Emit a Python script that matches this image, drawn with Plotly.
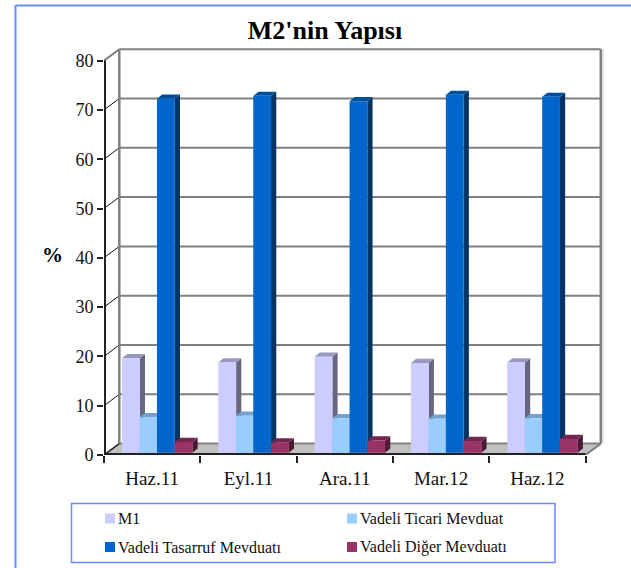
import plotly.graph_objects as go

categories = ["Haz.11", "Eyl.11", "Ara.11", "Mar.12", "Haz.12"]
m1 = [19.2, 18.3, 19.5, 18.2, 18.3]
ticari = [7.2, 7.5, 7.0, 6.9, 7.0]
tasarruf = [71.8, 72.4, 71.3, 72.6, 72.2]
diger = [2.2, 2.1, 2.5, 2.4, 2.8]
y_ticks = list(range(0, 90, 10))

series = [
    ("M1", m1, "#CCCCFF", "#666680", "#9999BF", -0.313, 105, 518.5),
    ("Vadeli Ticari Mevduat", ticari, "#99CCFF", "#4D6680", "#73A0CC", -0.130, 347, 518.5),
    ("Vadeli Tasarruf Mevduatı", tasarruf, "#0066CC", "#003366", "#004D99", 0.050, 105, 547),
    ("Vadeli Diğer Mevduatı", diger, "#993366", "#4D1A33", "#732650", 0.234, 347, 547),
]

L, R, T, B = 104, 21, 46, 113
W, H = 631, 568
plot_w, plot_h = W - L - R, H - T - B
PX_X = 96.3
PX_Y = 4.93
x0 = -0.5
x_end = x0 + plot_w / PX_X
y_end = plot_h / PX_Y
DX, DY = 15.3 / PX_X, 11.4 / PX_Y      # depth of the wall box
BDX, BDY = 5.2 / PX_X, 4.2 / PX_Y      # depth of each bar
BASE = 0.45
BAR_W = 17.8 / PX_X
x1 = x0 + len(categories)
GRID = "#808080"
DARK = "#222222"
FRAME = "#6A8CFF"


def px(x):
    return (x - L) / plot_w


def py(y):
    return (H - B - y) / plot_h


def poly(pts, color):
    d = "M" + " L".join(f"{a},{b}" for a, b in pts) + " Z"
    return dict(type="path", path=d, xref="x", yref="y", fillcolor=color, line_width=0, layer="below")


def seg(xa, ya, xb, yb, color, width, layer="below"):
    return dict(type="line", x0=xa, y0=ya, x1=xb, y1=yb, xref="x", yref="y",
                line=dict(color=color, width=width), layer=layer)


shapes = []
annotations = [dict(text="<b>%</b>", xref="paper", yref="paper", x=px(52), y=py(255),
                    xanchor="center", yanchor="middle",
                    showarrow=False, font=dict(size=21, color="#000000"))]
# outer frame and key box
shapes.append(dict(type="line", xref="paper", yref="paper", x0=px(16), x1=px(640), y0=py(5.5), y1=py(5.5),
                   line=dict(color=FRAME, width=2), layer="below"))
shapes.append(dict(type="line", xref="paper", yref="paper", x0=px(15.5), x1=px(15.5), y0=py(5), y1=py(575),
                   line=dict(color=FRAME, width=2), layer="below"))
shapes.append(dict(type="rect", xref="paper", yref="paper", x0=px(71.5), x1=px(555), y0=py(503.5), y1=py(562.5),
                   line=dict(color=FRAME, width=1.5), fillcolor="white", layer="below"))

# floor
shapes.append(poly([(x0, 0), (x1, 0), (x1 + DX, DY), (x0 + DX, DY)], "#C0C0C0"))
# back wall grid
for v in y_ticks:
    shapes.append(seg(x0 + DX, v + DY, x1 + DX, v + DY, GRID, 2))
    if v not in (0, y_ticks[-1]):
        shapes.append(seg(x0, v, x0 + DX, v + DY, "#111111", 1))
shapes.append(seg(x0, y_ticks[-1], x0 + DX, y_ticks[-1] + DY, GRID, 2))
shapes.append(seg(x0 + DX, DY, x0 + DX, y_ticks[-1] + DY, GRID, 2.5))
shapes.append(seg(x1 + DX, DY, x1 + DX, y_ticks[-1] + DY, GRID, 2.5))
shapes.append(seg(x1 + DX + 2.2 / PX_X, DY, x1 + DX + 2.2 / PX_X, y_ticks[-1] + DY, "#D9D9D9", 1.5))
shapes.append(seg(x0, 0, x0 + DX, DY, DARK, 1.5))
shapes.append(seg(x1, 0, x1 + DX, DY, GRID, 2))

fig = go.Figure()
for name, vals, front, side, top, off, key_x, key_y in series:
    for i, v in enumerate(vals):
        xa = i + off
        xb = xa + BAR_W
        yb = BASE
        yt = BASE + v
        shapes.append(poly([(xb, yb), (xb + BDX, yb + BDY), (xb + BDX, yt + BDY), (xb, yt)], side))
        shapes.append(poly([(xa, yt), (xb, yt), (xb + BDX, yt + BDY), (xa + BDX, yt + BDY)], top))
    fig.add_trace(go.Bar(
        x=list(range(len(categories))), y=vals, base=BASE, width=BAR_W, offset=off,
        name=name, marker=dict(color=front, line_width=0), showlegend=False,
        hoverinfo="skip",
    ))
    # key entry
    shapes.append(dict(type="rect", xref="paper", yref="paper", x0=px(key_x), x1=px(key_x + 10),
                       y0=py(key_y - 5), y1=py(key_y + 5), fillcolor=front, line_width=0, layer="below"))
    annotations.append(dict(text=name, xref="paper", yref="paper", x=px(key_x + 10.5), y=py(key_y),
                            xanchor="left", yanchor="middle", showarrow=False,
                            font=dict(size=16, color="#111111")))

# front axes (stop at the last tick rather than the top of the box)
shapes.append(seg(x0, 0, x0, y_ticks[-1], DARK, 4, "above"))
shapes.append(seg(x0, 0, x1, 0, DARK, 4, "above"))

fig.update_layout(
    width=W, height=H, autosize=False,
    margin=dict(l=L, r=R, t=T, b=B, pad=0),
    paper_bgcolor="white", plot_bgcolor="rgba(0,0,0,0)",
    font=dict(family="Liberation Serif", color="#111111"),
    barmode="overlay",
    shapes=shapes,
    annotations=annotations,
    showlegend=False,
    title=dict(text="<b>M2'nin Yapısı</b>", font=dict(size=26, color="#000000"),
               x=325 / W, xanchor="center", y=1 - 30 / H, yanchor="middle"),
    xaxis=dict(
        range=[x0, x_end], showgrid=False, zeroline=False, showline=False,
        tickmode="array", tickvals=list(range(len(categories))), ticktext=categories,
        ticks="", tickfont=dict(size=19), ticklabelstandoff=10,
        minor=dict(tickmode="array", tickvals=[x0 + k for k in range(len(categories) + 1)],
                   ticks="outside", ticklen=7, tickwidth=1.5, tickcolor=DARK, showgrid=False),
    ),
    yaxis=dict(
        range=[0, y_end], showgrid=False, zeroline=False, showline=False,
        tickmode="array", tickvals=y_ticks, ticks="outside", ticklen=6, tickwidth=1.5,
        tickcolor=DARK, tickfont=dict(size=18),
    ),
)

fig.write_html("out.html", config=dict(displayModeBar=False),
               post_script="document.body.style.margin='0';document.body.style.overflow='hidden';")
